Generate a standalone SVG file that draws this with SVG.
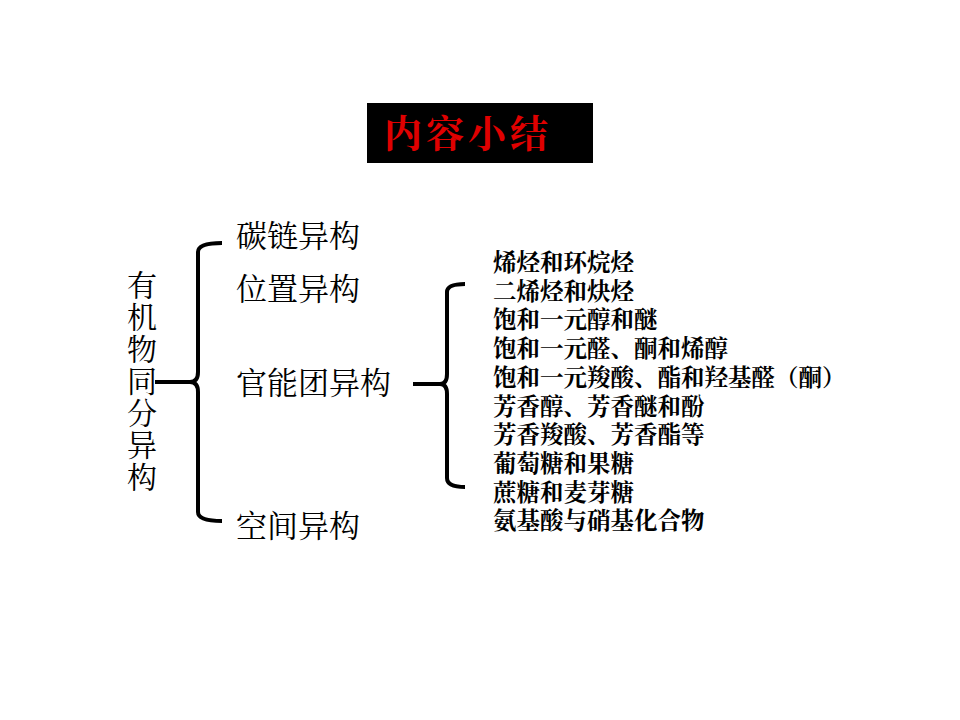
<svg xmlns="http://www.w3.org/2000/svg" width="960" height="720" viewBox="0 0 960 720">
<style>
.s{font-family:"Noto Serif CJK SC","Liberation Serif","Noto Sans CJK SC",serif;fill:#000}
.m{font-size:31px}
.l{font-size:23.5px;font-weight:bold}
.b{fill:none;stroke:#000;stroke-width:4}
</style>
<rect width="960" height="720" fill="#fff"/>
<g id="title"><rect x="367" y="103" width="226" height="60" fill="#000"/>
<text x="384" y="147" class="s" style="font-size:38px;font-weight:bold;fill:#e00000;letter-spacing:4px">内容小结</text></g>
<g id="root"><text class="s" style="font-size:30px" text-anchor="middle"><tspan x="142" y="296">有</tspan><tspan x="142" y="328">机</tspan><tspan x="142" y="360">物</tspan><tspan x="142" y="392">同</tspan><tspan x="142" y="424">分</tspan><tspan x="142" y="456">异</tspan><tspan x="142" y="488">构</tspan></text></g>
<g id="connectors">
<path class="b" d="M222,243 Q198,243 198,252 L198,372 Q198,382 190,382 L155,382 M190,382 Q198,382 198,392 L198,512 Q198,521 222,521"/>
<path class="b" d="M465,284 Q447,284 447,292 L447,374 Q447,384 440,384 L413,384 M440,384 Q447,384 447,394 L447,478 Q447,487 465,487"/>
</g>
<g id="n1"><text class="s m" x="236" y="247">碳链异构</text></g>
<g id="n2"><text class="s m" x="236" y="300">位置异构</text></g>
<g id="n3"><text class="s m" x="236" y="394">官能团异构</text></g>
<g id="n4"><text class="s m" x="236" y="537">空间异构</text></g>
<g id="list"><text class="s l">
<tspan x="493" y="271">烯烃和环烷烃</tspan>
<tspan x="493" y="300">二烯烃和炔烃</tspan>
<tspan x="493" y="328">饱和一元醇和醚</tspan>
<tspan x="493" y="357">饱和一元醛、酮和烯醇</tspan>
<tspan x="493" y="386">饱和一元羧酸、酯和羟基醛（酮）</tspan>
<tspan x="493" y="415">芳香醇、芳香醚和酚</tspan>
<tspan x="493" y="443">芳香羧酸、芳香酯等</tspan>
<tspan x="493" y="472">葡萄糖和果糖</tspan>
<tspan x="493" y="501">蔗糖和麦芽糖</tspan>
<tspan x="493" y="529">氨基酸与硝基化合物</tspan>
</text></g>
</svg>
